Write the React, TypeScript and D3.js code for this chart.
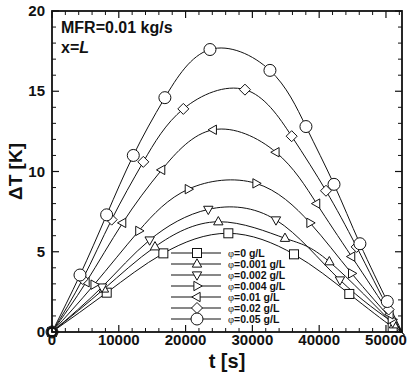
import React from "react";
import * as d3 from "d3";

// [t (s), dT (K)]
const phi0 = [[0, 0], [8190, 2.45], [16670, 4.9], [26400, 6.15], [36230, 4.84], [44510, 2.37], [51000, 0.3], [52400, 0]];
const phi001 = [[0, 0], [7780, 2.68], [15420, 5.31], [24900, 6.87], [34880, 5.84], [41520, 4.38], [51200, 0.45], [52400, 0]];
const phi002 = [[0, 0], [7490, 2.8], [14620, 5.73], [23400, 7.64], [33530, 6.98], [43110, 3.24], [51000, 0.6], [52400, 0]];
const phi004 = [[0, 0], [6300, 2.95], [13000, 6.3], [20410, 8.9], [30540, 9.26], [38620, 6.8], [44860, 3.65], [50800, 0.8], [52400, 0]];
const phi01 = [[0, 0], [5100, 3.1], [10580, 6.8], [16420, 10.1], [24150, 12.6], [33530, 11.2], [39620, 8.0], [44860, 4.7], [50600, 1.1], [52400, 0]];
const phi02 = [[0, 0], [4600, 3.3], [8930, 7.0], [13670, 10.6], [19660, 13.9], [28890, 15.1], [35880, 12.2], [41020, 8.8], [45610, 5.3], [50400, 1.4], [52400, 0]];
const phi05 = [[0, 0], [4190, 3.55], [8180, 7.3], [12170, 11.0], [16900, 14.6], [23650, 17.6], [32630, 16.3], [38020, 12.8], [42220, 9.2], [46100, 5.5], [50200, 1.9], [52400, 0]];

const seriesData = [phi0, phi001, phi002, phi004, phi01, phi02, phi05];
const legendLabels = ["0 g/L", "0.001 g/L", "0.002 g/L", "0.004 g/L", "0.01 g/L", "0.02 g/L", "0.05 g/L"];
const markerTypes = ["square", "up", "down", "right", "left", "diamond", "circle"];

const xTicks = [0, 10000, 20000, 30000, 40000, 50000];
const yTicks = [0, 5, 10, 15, 20];

const W = 414;
const H = 375;
const margin = { top: 11, right: 12, bottom: 43, left: 52 };
const INK = "#111";
const BOLD = "'Liberation Sans', Arial, sans-serif";

function Marker({ type, x, y }: { type: string; x: number; y: number }) {
  const p = { fill: "#fff", stroke: INK, strokeWidth: 1 };
  const r = 5.2;
  if (type === "circle") return <circle cx={x} cy={y} r={6} {...p} />;
  if (type === "square") return <rect x={x - 4.5} y={y - 4.5} width={9} height={9} {...p} />;
  let pts: number[][] = [];
  if (type === "up") pts = [[0, -r], [r * 0.9, r * 0.6], [-r * 0.9, r * 0.6]];
  if (type === "down") pts = [[0, r], [r * 0.9, -r * 0.6], [-r * 0.9, -r * 0.6]];
  if (type === "right") pts = [[r, 0], [-r * 0.6, -r * 0.9], [-r * 0.6, r * 0.9]];
  if (type === "left") pts = [[-r, 0], [r * 0.6, -r * 0.9], [r * 0.6, r * 0.9]];
  if (type === "diamond") pts = [[0, -5.5], [5.5, 0], [0, 5.5], [-5.5, 0]];
  return <polygon points={pts.map((q) => `${x + q[0]},${y + q[1]}`).join(" ")} {...p} />;
}

export default function App() {
  const x = d3.scaleLinear().domain([0, 52400]).range([margin.left, W - margin.right]);
  const y = d3.scaleLinear().domain([0, 20]).range([H - margin.bottom, margin.top]);
  const line = d3
    .line<number[]>()
    .x((d) => x(d[0]))
    .y((d) => y(d[1]))
    .curve(d3.curveNatural);

  const x0 = x.range()[0], x1 = x.range()[1];
  const y0 = y.range()[0], y1 = y.range()[1];
  const xMinor = d3.range(0, 52401, 2000).filter((v) => v % 10000 !== 0);
  const yMinor = d3.range(0, 20.01, 1).filter((v) => v % 5 !== 0);

  return (
    <svg width={W} height={H} style={{ position: "absolute", left: 0, top: 0, background: "#fff" }}>
      {/* curves */}
      {seriesData.map((s, i) => (
        <path key={"l" + i} d={line(s) || ""} fill="none" stroke={INK} strokeWidth={1} />
      ))}
      {/* markers */}
      {seriesData.map((s, i) =>
        s.slice(0, -1).map((d, j) => (
          <Marker key={`m${i}-${j}`} type={markerTypes[i]} x={x(d[0])} y={y(d[1])} />
        ))
      )}
      {/* bold ring at the origin, as in the reference */}
      <circle cx={x(0)} cy={y(0)} r={4.5} fill="#fff" stroke={INK} strokeWidth={2.5} />

      {/* ticks: inward on all four sides */}
      {xTicks.map((t) => (
        <g key={"xt" + t} stroke={INK} strokeWidth={1.2}>
          <line x1={x(t)} x2={x(t)} y1={y0} y2={y0 - 7} />
          <line x1={x(t)} x2={x(t)} y1={y1} y2={y1 + 7} />
        </g>
      ))}
      {xMinor.map((t) => (
        <g key={"xm" + t} stroke={INK} strokeWidth={1}>
          <line x1={x(t)} x2={x(t)} y1={y0} y2={y0 - 4} />
          <line x1={x(t)} x2={x(t)} y1={y1} y2={y1 + 4} />
        </g>
      ))}
      {yTicks.map((t) => (
        <g key={"yt" + t} stroke={INK} strokeWidth={1.2}>
          <line x1={x0} x2={x0 + 7} y1={y(t)} y2={y(t)} />
          <line x1={x1} x2={x1 - 7} y1={y(t)} y2={y(t)} />
        </g>
      ))}
      {yMinor.map((t) => (
        <g key={"ym" + t} stroke={INK} strokeWidth={1}>
          <line x1={x0} x2={x0 + 4} y1={y(t)} y2={y(t)} />
          <line x1={x1} x2={x1 - 4} y1={y(t)} y2={y(t)} />
        </g>
      ))}
      <rect x={x0} y={y1} width={x1 - x0} height={y0 - y1} fill="none" stroke={INK} strokeWidth={1.8} />

      {/* tick labels */}
      {xTicks.map((t) => (
        <text key={"xl" + t} x={x(t)} y={y0 + 13} textAnchor="middle" fontFamily={BOLD} fontWeight="bold" fontSize={15} fill={INK}>
          {t}
        </text>
      ))}
      {yTicks.map((t) => (
        <text key={"yl" + t} x={x0 - 7} y={y(t) + 5} textAnchor="end" fontFamily={BOLD} fontWeight="bold" fontSize={15} fill={INK}>
          {t}
        </text>
      ))}

      {/* axis titles */}
      <text x={(x0 + x1) / 2} y={H - 7} textAnchor="middle" fontFamily={BOLD} fontWeight="bold" fontSize={20} fill={INK}>
        t [s]
      </text>
      <text
        transform={`translate(22,${(y0 + y1) / 2}) rotate(-90)`}
        textAnchor="middle"
        fontFamily={BOLD}
        fontWeight="bold"
        fontSize={19}
        fill={INK}
      >
        ΔT [K]
      </text>

      {/* annotation */}
      <text x={61} y={33} fontFamily={BOLD} fontWeight="bold" fontSize={16} fill={INK}>
        MFR=0.01 kg/s
      </text>
      <text x={61} y={53} fontFamily={BOLD} fontWeight="bold" fontSize={16} fill={INK}>
        x=<tspan fontStyle="italic">L</tspan>
      </text>

      {/* legend */}
      {legendLabels.map((lab, i) => {
        const ly = 253 + i * 11;
        return (
          <g key={"lg" + i}>
            <line x1={171} x2={221} y1={ly} y2={ly} stroke={INK} strokeWidth={1} />
            <Marker type={markerTypes[i]} x={197} y={ly} />
            <text x={228} y={ly + 4} fontFamily={BOLD} fontWeight="bold" fontSize={10.5} fill={INK}>
              <tspan fontFamily="'Liberation Serif', serif" fontWeight="normal">φ</tspan>={lab}
            </text>
          </g>
        );
      })}
    </svg>
  );
}
